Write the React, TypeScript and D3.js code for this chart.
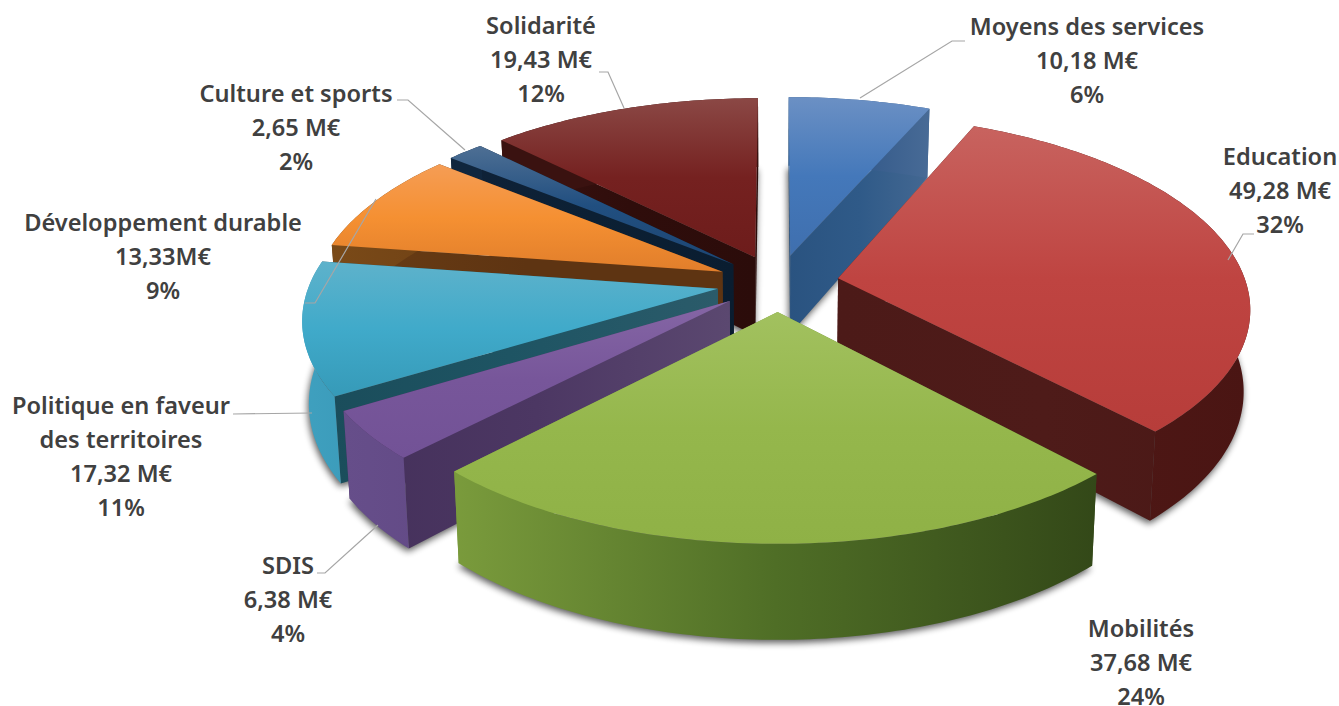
import React from "react";
import * as d3 from "d3";

const categories = ["Moyens des services", "Education", "Mobilités", "SDIS", "Politique en faveur des territoires", "Développement durable", "Culture et sports", "Solidarité"];
const values = [10.18, 49.28, 37.68, 6.38, 17.32, 13.33, 2.65, 19.43];
const labelLines = [
  ["Moyens des services", "10,18 M€", "6%"],
  ["Education", "49,28 M€", "32%"],
  ["Mobilités", "37,68 M€", "24%"],
  ["SDIS", "6,38 M€", "4%"],
  ["Politique en faveur", "des territoires", "17,32 M€", "11%"],
  ["Développement durable", "13,33M€", "9%"],
  ["Culture et sports", "2,65 M€", "2%"],
  ["Solidarité", "19,43 M€", "12%"],
];
const topStops = [
  ["#6b90c4", "#4478ba", "#3f6fae"],
  ["#c8635f", "#bf4441", "#b73d3a"],
  ["#a2c15f", "#95b74c", "#8fb146"],
  ["#8566a5", "#77569a", "#725296"],
  ["#5eb2cb", "#40aaca", "#369ab8"],
  ["#f59d55", "#f59032", "#e17e2b"],
  ["#4e6f94", "#214f80", "#1d4674"],
  ["#8b4845", "#752120", "#6d1c1b"],
];
const outerStops = [
  ["#2c5684", "#33598a", "#486b96"],
  ["#4a1614", "#4f1816", "#4a1513"],
  ["#7a9b3c", "#4f6e26", "#334818"],
  ["#664e8a", "#5f4682", "#57407a"],
  ["#3fa0bf", "#2f8dab", "#287e9b"],
  ["#7a4a18", "#6a3d14", "#5e3412"],
  ["#10263e", "#10263e", "#10263e"],
  ["#3a1210", "#3a1210", "#3a1210"],
];
const radialStops = [
  ["#2a5380", "#2f5a88", "#446892"],
  ["#4c1a18", "#4e1b19", "#4a1816"],
  ["#76983a", "#76983a", "#334818"],
  ["#44305a", "#4c3763", "#5b4870"],
  ["#1a4c5a", "#1e5463", "#2b5b6a"],
  ["#6a3d14", "#5e3412", "#5e3412"],
  ["#0f2238", "#0c2034", "#0a1d30"],
  ["#3a1210", "#2f0d0b", "#2b0c0a"],
];
const drawOrder = [7, 0, 6, 5, 4, 1, 3, 2];

// layout of the labels and their leader lines (px)
const labelAnchors: [number, number][] = [[1087, 35], [1280, 165], [1141, 637], [288, 574], [121, 414], [163, 231], [296, 102], [541, 34]];
const leaders: [number, number][][] = [
  [[860, 98], [952, 41], [965, 41]],
  [[1228, 260], [1243, 234], [1254, 234]],
  [],
  [[317, 573], [325, 573], [378, 525]],
  [[233, 414], [312, 413]],
  [[305, 303], [315, 303], [376, 199]],
  [[397, 100], [408, 100], [465, 150]],
  [[599, 72], [608, 72], [624, 108]],
];

const W = 1339, H = 706;
const CX = 778, CY = 283, RX = 408, TILT = 189, PERSP = 0.145, EXPLODE = 0.15, DEPTH = 80, SHRINK = 0.014;

const pieGen = d3.pie<number>().sort(null);
const arcs = pieGen(values);

function projector(mid: number) {
  return (a: number, r: number, z: number): [number, number] => {
    const X = r * Math.sin(a) + EXPLODE * Math.sin(mid);
    const Y = -r * Math.cos(a) - EXPLODE * Math.cos(mid);
    const k = 1 / (1 - PERSP * Y);
    return [CX + RX * X * k * (1 - SHRINK * z), CY + TILT * Y * k + DEPTH * z * k];
  };
}
const line = d3.line<[number, number]>();

export default function App() {
  const slices = arcs.map((arc, i) => {
    const mid = (arc.startAngle + arc.endAngle) / 2;
    const P = projector(mid);
    const n = Math.max(4, Math.ceil((arc.endAngle - arc.startAngle) * 60));
    const angles = d3.range(n + 1).map((j) => arc.startAngle + ((arc.endAngle - arc.startAngle) * j) / n);
    const rim = angles.map((a) => P(a, 1, 0));
    const rimLow = angles.map((a) => P(a, 1, 1));
    const apex = P(0, 0, 0);
    const apexLow = P(0, 0, 1);
    const top = line([apex, ...rim]) + "Z";
    const base = line([apexLow, ...rimLow]) + "Z";
    const outer = line([...rim, ...rimLow.slice().reverse()]) + "Z";
    const startWall = line([apex, rim[0], rimLow[0], apexLow]) + "Z";
    const endWall = line([apex, rim[n], rimLow[n], apexLow]) + "Z";
    const xs = [...rim, apex].map((p) => p[0]);
    const x0 = d3.min(xs) as number;
    const x1 = d3.max(xs) as number;
    return { i, top, base, outer, startWall, endWall, x0, x1 };
  });

  const stopEls = (cols: string[]) => [0, 0.5, 1].map((o, j) => <stop key={j} offset={o} stopColor={cols[j]} />);

  return (
    <svg width={W} height={H} style={{ position: "absolute", left: 0, top: 0, background: "#fff" }} fontFamily="'Noto Sans', 'Open Sans', sans-serif">
      <defs>
        <filter id="soft" x="-20%" y="-20%" width="140%" height="140%">
          <feGaussianBlur stdDeviation="3.5" />
        </filter>
        {slices.map((s) => (
          <React.Fragment key={s.i}>
            <linearGradient id={`top${s.i}`} x1="0" y1="0" x2="0" y2="1">{stopEls(topStops[s.i])}</linearGradient>
            <linearGradient id={`outer${s.i}`} gradientUnits="userSpaceOnUse" x1={s.x0} x2={s.x1} y1="0" y2="0">{stopEls(outerStops[s.i])}</linearGradient>
            <linearGradient id={`radial${s.i}`} gradientUnits="userSpaceOnUse" x1={s.x0} x2={s.x1} y1="0" y2="0">{stopEls(radialStops[s.i])}</linearGradient>
          </React.Fragment>
        ))}
      </defs>
      {drawOrder.map((i) => {
        const s = slices[i];
        return (
          <g key={i} data-name={categories[i]}>
            <path d={s.base} fill="#000" opacity={0.65} filter="url(#soft)" transform="translate(-1,3)" />
            <path d={s.startWall} fill={`url(#radial${i})`} />
            <path d={s.endWall} fill={`url(#radial${i})`} />
            <path d={s.outer} fill={`url(#outer${i})`} />
            <path d={s.top} fill={`url(#top${i})`} />
          </g>
        );
      })}
      {leaders.map((pts, i) => pts.length ? <path key={i} d={line(pts) as string} fill="none" stroke="#a6a6a6" strokeWidth={1.2} /> : null)}
      {labelLines.map((lines, i) => (
        <text key={i} textAnchor="middle" fontSize={23.6} fontWeight={600} fill="#404040">
          {lines.map((t, j) => (
            <tspan key={j} x={labelAnchors[i][0]} y={labelAnchors[i][1] + j * 34}>{t}</tspan>
          ))}
        </text>
      ))}
    </svg>
  );
}
